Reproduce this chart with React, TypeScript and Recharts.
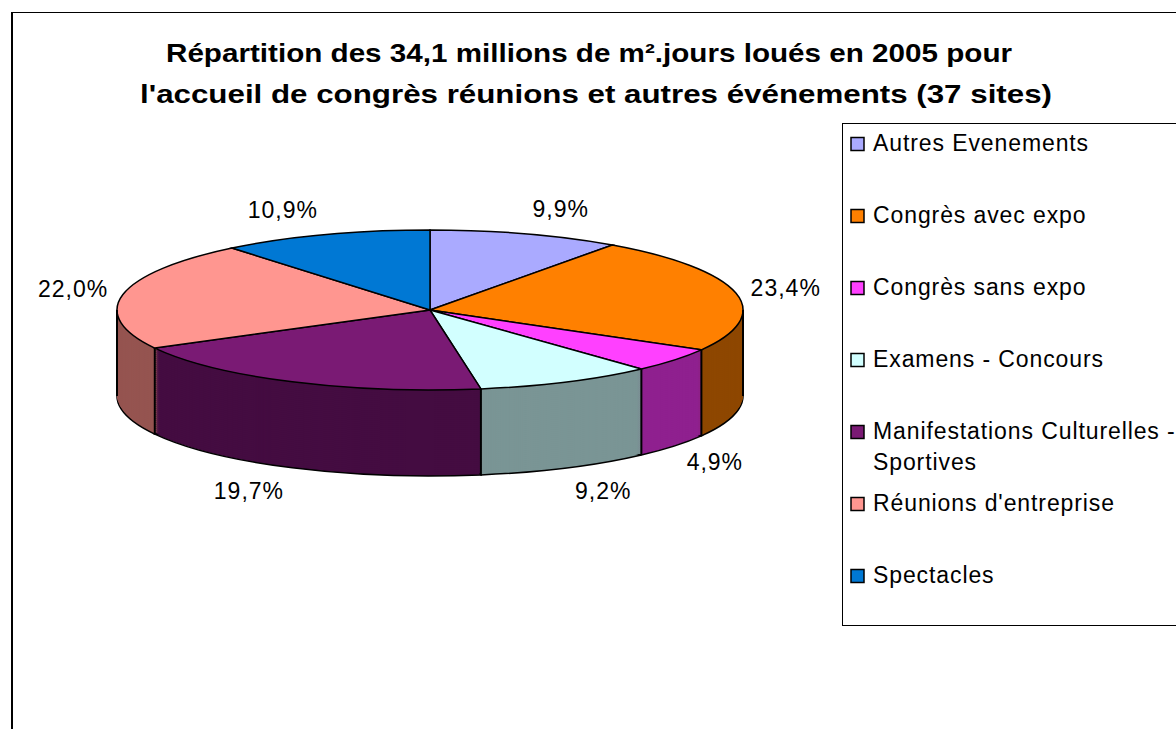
import React from 'react'
import { PieChart, Pie, Cell, Legend } from 'recharts'

const categories = [
  'Autres Evenements',
  'Congrès avec expo',
  'Congrès sans expo',
  'Examens - Concours',
  'Manifestations Culturelles - Sportives',
  "Réunions d'entreprise",
  'Spectacles',
]
const shares = [9.9, 23.4, 4.9, 9.2, 19.7, 22.0, 10.9]
const topColors = ['#AAAAFF', '#FF8000', '#FF40FF', '#D2FFFF', '#7A1A74', '#FF9690', '#0078D4']
const sideColors = ['#5C5C99', '#8E4700', '#8F208F', '#7A9595', '#440C41', '#955450', '#00457A']
const titleLines = [
  'Répartition des 34,1 millions de m².jours loués en 2005 pour',
  "l'accueil de congrès réunions et autres événements (37 sites)",
]

const data = categories.map((name, i) => ({ name, value: shares[i] }))

// geometry of the tilted pie (screen pixels)
const CX = 430
const CY = 310
const R = 313
const K = 80 / 313 // vertical squash
const DEPTH = 86
const STEP = 2
const RAD = Math.PI / 180
const FONT = '"Liberation Sans", Arial, sans-serif'

const offsets: number[] = []
for (let d = DEPTH; d >= STEP; d -= STEP) offsets.push(d)

// screen y -> y inside the squashed drawing
const inner = (y: number) => CY + (y - CY) / K

const fmt = (v: number) => `${v.toFixed(1).replace('.', ',')}%`

// percentage label + the vertical edges of the wall below this slice
const renderLabel = (p: any) => {
  const c = Math.cos(p.midAngle * RAD)
  const s = Math.sin(p.midAngle * RAD)
  const px = p.cx + p.outerRadius * c
  const py = CY - p.outerRadius * K * s + (s < 0 ? DEPTH : 0)
  const x = px + Math.sign(c) * 3 + c * 12
  const y = py - s * 26 + 8

  const edges: number[] = []
  if (Math.sin(p.startAngle * RAD) < 0) edges.push(p.startAngle)
  if (p.index === 0) edges.push(0, 180)

  return (
    <g key={`lbl-${p.index}`}>
      {edges.map((a) => {
        const ex = p.cx + p.outerRadius * Math.cos(a * RAD)
        const y1 = p.cy - p.outerRadius * Math.sin(a * RAD)
        return (
          <line
            key={a}
            x1={ex}
            x2={ex}
            y1={y1}
            y2={y1 + DEPTH / K}
            stroke="#000"
            strokeWidth={2}
          />
        )
      })}
      <text
        transform={`translate(${x} ${inner(y)}) scale(1 ${1 / K})`}
        textAnchor={c >= 0 ? 'start' : 'end'}
        fontFamily={FONT}
        fontSize={23}
        letterSpacing={1}
        fill="#000"
        stroke="none"
      >
        {fmt(p.value)}
      </text>
    </g>
  )
}

const wrapLabel = (text: string, max = 28) => {
  const lines: string[] = []
  let cur = ''
  text.split(' ').forEach((w) => {
    const next = cur ? `${cur} ${w}` : w
    if (next.length > max && cur) {
      lines.push(cur)
      cur = w
    } else cur = next
  })
  if (cur) lines.push(cur)
  return lines
}

const renderLegend = () => (
  <svg width={334} height={504} style={{ display: 'block' }}>
    <rect x={0.5} y={0.5} width={400} height={502} fill="#fff" stroke="#000" strokeWidth={1} />
    {categories.map((name, i) => {
      const cy = 21 + 72 * i
      return (
        <g key={name}>
          <rect x={9} y={cy - 6.5} width={13} height={13} fill={topColors[i]} stroke="#000" strokeWidth={1.5} />
          {wrapLabel(name).map((line, j) => (
            <text
              key={j}
              x={31}
              y={cy + 7 + j * 31}
              fontFamily={FONT}
              fontSize={23}
              letterSpacing={0.9}
              fill="#000"
            >
              {line}
            </text>
          ))}
        </g>
      )
    })}
  </svg>
)

const squash = `matrix(1, 0, 0, ${K}, 0, ${CY * (1 - K)})`

export default function App() {
  return (
    <div
      style={{
        position: 'absolute',
        left: 0,
        top: 0,
        width: 1176,
        height: 729,
        overflow: 'hidden',
        background: '#fff',
      }}
    >
      <style>{`
        .pie3d .recharts-surface > g { transform: ${squash}; }
        .pie3d .recharts-sector { vector-effect: non-scaling-stroke; }
      `}</style>
      <div
        style={{
          position: 'absolute',
          left: 11,
          top: 12,
          width: 1300,
          height: 900,
          borderLeft: '2px solid #000',
          borderTop: '1.5px solid #000',
        }}
      />
      <svg width={1176} height={120} style={{ position: 'absolute', left: 0, top: 0 }}>
        <text x={589} y={62} textAnchor="middle" fontFamily={FONT} fontWeight="bold" fontSize={25} textLength={846} lengthAdjust="spacingAndGlyphs">
          {titleLines[0]}
        </text>
        <text x={596} y={103} textAnchor="middle" fontFamily={FONT} fontWeight="bold" fontSize={25} textLength={912} lengthAdjust="spacingAndGlyphs">
          {titleLines[1]}
        </text>
      </svg>
      <div className="pie3d" style={{ position: 'absolute', left: 0, top: 0 }}>
        <PieChart width={1176} height={729} margin={{ top: 0, right: 0, bottom: 0, left: 0 }}>
          {offsets.map((d) => (
            <Pie
              key={`wall-${d}`}
              data={data}
              dataKey="value"
              nameKey="name"
              cx={CX}
              cy={CY + d / K}
              outerRadius={R}
              startAngle={90}
              endAngle={-270}
              strokeWidth={d === DEPTH ? 1.5 : 1}
              label={false}
              labelLine={false}
              isAnimationActive={false}
            >
              {data.map((_, i) => (
                <Cell key={i} fill={sideColors[i]} stroke={d === DEPTH ? '#000' : sideColors[i]} />
              ))}
            </Pie>
          ))}
          <Pie
            data={data}
            dataKey="value"
            nameKey="name"
            cx={CX}
            cy={CY}
            outerRadius={R}
            startAngle={90}
            endAngle={-270}
            stroke="#000"
            strokeWidth={1.5}
            label={renderLabel}
            labelLine={false}
            isAnimationActive={false}
          >
            {data.map((_, i) => (
              <Cell key={i} fill={topColors[i]} />
            ))}
          </Pie>
          <Legend
            layout="vertical"
            align="right"
            verticalAlign="top"
            content={renderLegend}
            wrapperStyle={{ left: 842, top: 123, width: 334, height: 504 }}
          />
        </PieChart>
      </div>
    </div>
  )
}
